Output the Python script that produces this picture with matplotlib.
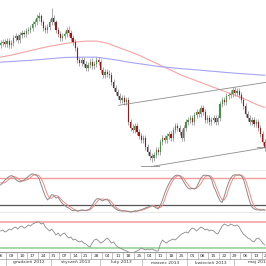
import numpy as np
import pandas as pd
import matplotlib
matplotlib.use("Agg")
import matplotlib.pyplot as plt

# ---------------- data ----------------
start_date = "2012-11-28"

opens = [155,157,158,156,159,155,157,162,164,160,
         165,167,166,169,170,172,176,178,182,184,
         178,172,170,173,178,182,178,170,166,162,
         164,166,170,167,162,158,152,140,137,140,
         136,132,135,138,134,136,140,138,130,125,
         128,126,125,118,112,108,104,100,102,98,
         100,78,72,70,74,68,64,60,62,53,
         48,44,42,45,50,48,58,62,60,64,
         66,62,70,74,72,68,62,72,78,80,
         82,78,85,88,86,92,88,80,82,78,
         80,82,78,82,96,100,98,104,105,106,
         110,107,109,105,100,94,86,82,78,80,
         76,78,72,66,58]
closes = [157,158,156,159,155,157,162,164,160,165,
          167,166,169,170,172,176,178,182,184,178,
          172,170,173,178,182,178,170,166,162,164,
          166,170,167,162,158,152,140,137,140,136,
          132,135,138,134,136,140,138,130,125,128,
          126,125,118,112,108,104,100,102,98,100,
          78,72,70,74,68,64,60,62,53,48,
          44,42,45,50,48,58,62,60,64,66,
          62,70,74,72,68,62,72,78,80,82,
          78,85,88,86,92,88,80,82,78,80,
          82,78,82,96,100,98,104,105,106,110,
          107,109,105,100,94,86,82,78,80,76,
          78,72,66,58,52]
highs = [160,161,161,162,162,160,165,167,166,168,
         170,170,172,173,175,179,181,186,188,186,
         180,175,176,181,192,185,180,173,169,167,
         169,173,174,170,165,161,154,143,143,143,
         139,138,141,142,139,143,143,141,133,131,
         131,130,128,121,115,111,107,105,105,103,
         103,81,76,77,77,71,67,65,65,56,
         51,47,48,53,53,61,65,65,67,69,
         69,73,77,77,75,71,75,81,83,85,
         85,88,91,91,95,95,91,85,85,83,
         85,85,85,99,103,103,107,108,110,113,
         113,112,112,108,103,97,89,85,83,83,
         81,81,75,69,61]
lows = [152,154,153,153,152,152,154,159,157,157,
        162,163,163,166,167,169,173,175,179,175,
        169,167,167,170,175,175,167,163,159,159,
        161,163,164,159,155,149,137,134,134,133,
        129,129,132,131,131,133,135,127,122,122,
        123,122,115,109,105,101,97,97,95,95,
        75,69,67,67,65,61,57,57,50,45,
        40,38,39,42,45,45,55,57,57,61,
        59,59,67,69,65,59,59,69,75,77,
        75,75,82,83,83,85,77,77,75,75,
        77,75,75,79,93,95,95,101,102,103,
        104,104,102,97,91,83,79,75,75,73,
        73,69,63,55,49]

ma_red = [143,143.4,143.8,144.2,144.6,145,145.5,146,146.5,147,
          147.5,148,148.5,149,149.5,150,150.5,151,151.5,152,
          152.5,153,153.4,153.8,154.2,154.5,154.9,155.3,155.7,156.1,
          156.5,156.8,157.1,157.4,157.7,158,158.2,158.4,158.6,158.8,
          159,159,159,159,159,159,158.6,158.2,157.8,157.4,
          157,156.2,155.4,154.6,153.8,153,152.2,151.4,150.6,149.8,
          149,148.2,147.4,146.6,145.8,145,144,143,142,141,
          140,139,138,137,136,135,134,133,132,131,
          130,129,128,127,126,125,124.2,123.4,122.6,121.8,
          121,120.2,119.4,118.6,117.8,117,116.2,115.4,114.6,113.8,
          113,112.2,111.4,110.6,109.8,109,108.2,107.4,106.6,105.8,
          105,104.2,103.4,102.6,101.8,101,100,99,98,97,
          96,95.2,94.4,93.6,93]
ma_blue = [138,138.1,138.3,138.4,138.5,138.7,138.8,138.9,139.1,139.2,
           139.3,139.5,139.6,139.7,139.9,140,140.2,140.4,140.5,140.7,
           140.9,141.1,141.3,141.4,141.6,141.8,142,142.2,142.3,142.5,
           142.7,142.8,142.8,142.8,142.9,142.9,142.9,143,143,143,
           143,143,143,143,143,143,142.7,142.4,142.1,141.8,
           141.5,141.2,140.9,140.6,140.3,140,139.6,139.2,138.8,138.4,
           138,137.7,137.4,137.1,136.8,136.5,136.2,135.9,135.6,135.3,
           135,134.7,134.4,134.1,133.8,133.5,133.3,133.1,132.9,132.7,
           132.5,132.3,132.1,131.9,131.7,131.5,131.3,131.2,131,130.8,
           130.7,130.5,130.3,130.2,130,129.8,129.6,129.4,129.2,129,
           128.9,128.7,128.5,128.3,128.1,127.9,127.7,127.6,127.4,127.2,
           127,126.9,126.7,126.6,126.4,126.3,126.1,126,125.9,125.7,
           125.6,125.4,125.3,125.1,125]

# trend lines: (start index, start value, end index, end value)
trend_upper = [55.4, 95, 124.9, 118]
trend_lower = [70.9, 34, 124.9, 53]
support_1 = [65.7, 34, 74.2, 34]
support_2 = [120.2, 53, 124.9, 53]

stoch_k = [65,70,76,80,84,86,84,78,74,72,
           74,76,80,84,88,90,88,86,80,66,
           52,40,32,36,44,42,36,38,30,24,
           20,16,14,10,8,9,7,8,10,9,
           8,10,12,20,28,34,35,32,30,33,
           34,28,20,16,12,9,8,7,8,7,
           6,5,6,8,7,9,10,12,14,16,
           18,20,18,14,12,20,32,46,58,68,
           76,82,86,87,86,80,72,64,58,56,
           58,56,60,70,80,86,87,86,85,78,
           62,52,40,30,26,40,56,70,80,86,
           88,87,88,86,78,62,44,28,16,12,
           10,10,9,10,9]
stoch_d = [70,70,70,74,78,82,84,83,80,76,
           74,74,76,78,82,86,88,88,86,80,
           70,56,44,36,36,40,42,40,36,30,
           26,22,18,16,12,10,8,8,8,9,
           9,9,10,14,20,26,32,34,34,32,
           32,32,28,22,16,12,10,8,7,7,
           7,6,6,6,7,8,9,10,12,14,
           16,18,19,17,15,15,20,32,46,58,
           68,76,82,85,86,84,80,72,66,60,
           57,57,58,62,68,76,83,86,86,84,
           76,64,52,40,32,32,40,55,68,78,
           85,87,87,87,84,76,62,46,30,18,
           13,11,10,10,10]
stoch_levels = [80, 20]

rsi = [56,57.5,54.5,56,59,57.5,60.5,62,59,62,
       63.5,60.5,62,65,63.5,66.5,68,69.5,69.5,66.5,
       68,62,59,56,59,54.5,50,53,48.5,51.5,
       53,48.5,45.5,47,42.5,44,41,39.5,41,38,
       36.5,33.5,32,38,42.5,44,41,38,39.5,42.5,
       45.5,42.5,38,39.5,35,32,30.5,29,27.5,26,
       24.5,23,23,24.5,26,27.5,30.5,29,27.5,29,
       27.5,29,27.5,26,26,36.5,42.5,39.5,38,41,
       42.5,44,42.5,45.5,48.5,51.5,53,54.5,53,57.5,
       60.5,59,56,59,62,60.5,57.5,59,56,57.5,
       56,53,51.5,57.5,63.5,66.5,65,63.5,66.5,65,
       63.5,65,62,56,51.5,48.5,45.5,44,41,39.5,
       44,45.5,42.5,38,35]
rsi_levels = [70, 30]

month_names = ["styczeń", "luty", "marzec", "kwiecień", "maj", "czerwiec",
               "lipiec", "sierpień", "wrzesień", "październik", "listopad", "grudzień"]

# ---------------- figure ----------------
W = H = 266
fig = plt.figure(figsize=(W / 100, H / 100), dpi=100)
fig.patch.set_facecolor("white")

def px_axes(top, bottom):
    return fig.add_axes([0, 1 - bottom / H, 1, (bottom - top) / H])

ax = px_axes(0, 170.5)
ax_st = px_axes(170.5, 213.3)
ax_rsi = px_axes(213.3, 252)
ax_dt = px_axes(252, 266)

n = len(closes)
idx = np.arange(n)
xlim = (-0.3, 124.6)

for a in (ax, ax_st, ax_rsi, ax_dt):
    a.set_xlim(*xlim)
    a.set_xticks([]); a.set_yticks([])
    for s in a.spines.values():
        s.set_visible(False)
    a.set_facecolor("white")

# main panel
o = np.array(opens); c = np.array(closes); hi = np.array(highs); lo = np.array(lows)
up = c >= o
ax.vlines(idx, lo, hi, color="#9a9a9a", lw=0.6, zorder=2)
body_w = 0.55
ax.bar(idx[up], (c - o)[up], bottom=o[up], width=body_w, color="#4e8a4e",
       edgecolor="#4e8a4e", lw=0.1, zorder=3)
ax.bar(idx[~up], (o - c)[~up], bottom=c[~up], width=body_w, color="#8e1f1f",
       edgecolor="#8e1f1f", lw=0.1, zorder=3)
ax.plot(idx, ma_red, color="#f4a4a4", lw=0.8, zorder=1)
ax.plot(idx, ma_blue, color="#a4a4f2", lw=0.8, zorder=1)
for t in (trend_upper, trend_lower, support_1, support_2):
    ax.plot([t[0], t[2]], [t[1], t[3]], color="#8c8c8c", lw=0.6, zorder=4)
ax.set_ylim(30, 200)
ax.axhline(30, color="#9a9a9a", lw=1.0, clip_on=False)

# stochastic panel
ax_st.set_ylim(2.2, 97.3)
ax_st.axhline(stoch_levels[0], color="#f39a9a", lw=1.0)
ax_st.axhline(stoch_levels[1], color="#555555", lw=0.9)
ax_st.plot(idx, stoch_d, color="#f28a8a", lw=0.7)
ax_st.plot(idx, stoch_k, color="#8a8a8a", lw=0.7)
ax_st.axhline(2.2, color="#555555", lw=0.9, clip_on=False)

# rsi panel
ax_rsi.set_ylim(24.45, 82.6)
ax_rsi.axhline(rsi_levels[0], color="#f39a9a", lw=1.1)
ax_rsi.axhline(rsi_levels[1], color="#8fd08f", lw=1.1)
ax_rsi.plot(idx, rsi, color="#8a8a8a", lw=0.6)

# date axis
ax_dt.set_ylim(0, 1)
d0 = np.datetime64(start_date)

def pos(d):
    d = np.datetime64(pd.Timestamp(d).date())
    if d >= d0:
        return float(np.busday_count(d0, d))
    return -float(np.busday_count(d, d0))

line_c = "#9a9a9a"
ax_dt.axhline(1.0, color=line_c, lw=0.8)
ax_dt.axhline(0.5, color=line_c, lw=0.5)
mondays = pd.date_range("2012-11-19", "2013-06-03", freq="W-MON")
for m in mondays:
    x0 = pos(m) - 0.5
    x1 = x0 + 5
    ax_dt.plot([x0, x0], [0.5, 1], color=line_c, lw=0.4)
    cx = (x0 + x1) / 2
    if xlim[0] - 3 < cx < xlim[1] + 3:
        ax_dt.text(cx, 0.74, m.strftime("%d"), ha="center", va="center",
                   fontsize=3.2, color="#333333")
months = pd.date_range("2012-11-01", "2013-07-01", freq="MS")
for k in range(len(months) - 1):
    ms, me = months[k], months[k + 1]
    x0 = pos(ms + pd.offsets.BDay(0)) - 0.5
    x1 = pos(me + pd.offsets.BDay(0)) - 0.5
    ax_dt.plot([x0, x0], [0, 0.5], color=line_c, lw=0.4)
    cx = (x0 + x1) / 2
    if xlim[0] - 10 < cx < xlim[1] + 10:
        ax_dt.text(cx, 0.25, f"{month_names[ms.month - 1]} {ms.year}", ha="center",
                   va="center", fontsize=3.2, color="#333333")

fig.savefig("out.png", dpi=100)
